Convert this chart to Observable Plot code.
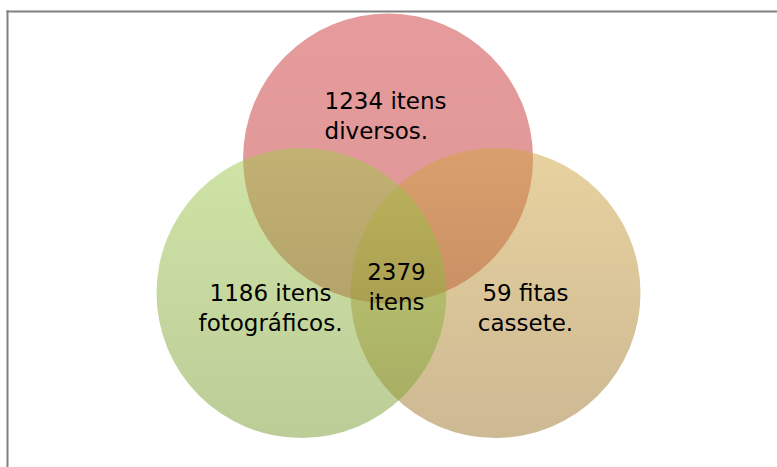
<!DOCTYPE html>
<html>
<head>
<meta charset="utf-8">
<script src="https://cdn.jsdelivr.net/npm/d3@7"></script>
<script src="https://cdn.jsdelivr.net/npm/@observablehq/plot@0.6"></script>
<style>
  html, body { margin: 0; padding: 0; background: #fff; }
  #chart svg { display: block; }
</style>
</head>
<body>
<div id="chart"></div>
<script>
// ---- Data (Venn sets; centres in units of the circle radius) ----
const setKeys = ["diversos", "cassete", "fotograficos"]; // drawing order
const setX = [-0.072, 0.669, -0.669];
const setY = [0.928, 0, 0];

const labelText = ["1234 itens\ndiversos.", "59 fitas\ncassete.", "1186 itens\nfotográficos.", "2379\nitens"];
const labelX = [-0.51, 0.876, -0.883, -0.014];
const labelY = [1.234, -0.09, -0.09, 0.054];
const labelAlign = ["start", "middle", "middle", "middle"];

// ---- Styles ----
const gradientStops = {
  diversos: ["#CD3939", "#BD2D2D"],
  cassete: ["#D1A541", "#9B7327"],
  fotograficos: ["#A1C94D", "#799B31"]
};

const W = 777, H = 467;
const mLeft = 7, mTop = 11, mRight = 0, mBottom = 0;
const xDomain = [-2.697, 2.614];
const yDomain = [-1.203, 1.941];
const radiusPx = (W - mLeft - mRight) / (xDomain[1] - xDomain[0]);

const sets = setKeys.map((k, i) => ({key: k, x: setX[i], y: setY[i]}));
const labels = labelText.map((t, i) => ({text: t, x: labelX[i], y: labelY[i], align: labelAlign[i]}));

function defsMark() {
  const ns = "http://www.w3.org/2000/svg";
  const defs = document.createElementNS(ns, "defs");
  for (const k of setKeys) {
    const g = document.createElementNS(ns, "linearGradient");
    g.setAttribute("id", "grad-" + k);
    g.setAttribute("x1", "0"); g.setAttribute("y1", "0");
    g.setAttribute("x2", "0"); g.setAttribute("y2", "1");
    gradientStops[k].forEach((c, j) => {
      const s = document.createElementNS(ns, "stop");
      s.setAttribute("offset", j === 0 ? "0" : "1");
      s.setAttribute("stop-color", c);
      g.appendChild(s);
    });
    defs.appendChild(g);
  }
  return defs;
}

const textStyle = {fontFamily: "'DejaVu Sans', sans-serif", fontSize: 23, lineHeight: 1.3, fill: "#000", lineAnchor: "middle"};

const chart = Plot.plot({
  width: W, height: H,
  marginLeft: mLeft, marginTop: mTop, marginRight: mRight, marginBottom: mBottom,
  x: {domain: xDomain, axis: null},
  y: {domain: yDomain, axis: null},
  color: {type: "identity"},
  style: {background: "#fff"},
  marks: [
    defsMark,
    Plot.dot(sets, {x: "x", y: "y", r: radiusPx, fill: d => `url(#grad-${d.key})`, fillOpacity: 0.5, stroke: "none"}),
    Plot.text(labels.filter(d => d.align === "start"), {x: "x", y: "y", text: "text", textAnchor: "start", ...textStyle}),
    Plot.text(labels.filter(d => d.align === "middle"), {x: "x", y: "y", text: "text", textAnchor: "middle", ...textStyle}),
    Plot.frame({anchor: "top", stroke: "#808080", strokeWidth: 2}),
    Plot.frame({anchor: "left", stroke: "#808080", strokeWidth: 2})
  ]
});
document.getElementById("chart").appendChild(chart);
</script>
</body>
</html>
